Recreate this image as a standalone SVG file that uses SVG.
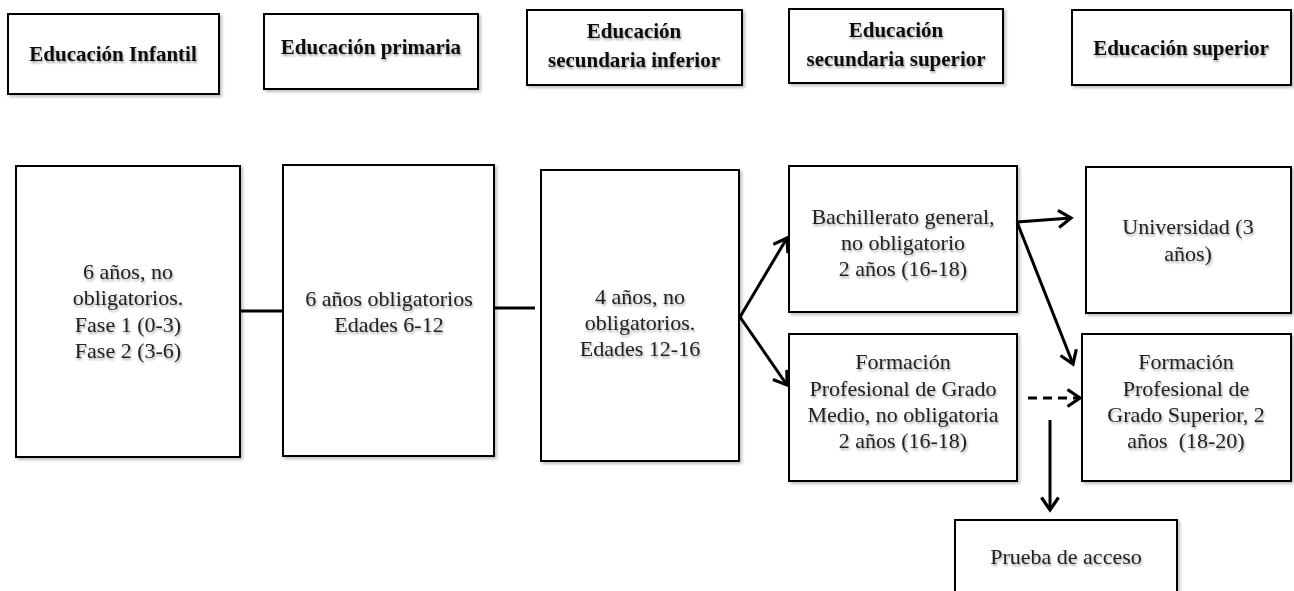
<svg xmlns="http://www.w3.org/2000/svg" width="1294" height="591" viewBox="0 0 1294 591">
<defs>
<filter id="sh" x="-10%" y="-10%" width="130%" height="130%">
<feDropShadow dx="2" dy="2" stdDeviation="1.5" flood-color="#000" flood-opacity="0.25"/>
</filter>
<filter id="tsh" x="-10%" y="-30%" width="130%" height="170%">
<feDropShadow dx="1" dy="2" stdDeviation="1.2" flood-color="#000" flood-opacity="0.35"/>
</filter>
<marker id="arr" viewBox="0 0 17 20" refX="14" refY="10" markerWidth="17" markerHeight="20" markerUnits="userSpaceOnUse" orient="auto">
<path d="M1.5,1.5 L14,10 L1.5,18.5" fill="none" stroke="#000" stroke-width="3.2"/>
</marker>
</defs>
<style>
.box{fill:#fff;stroke:#000;stroke-width:2;filter:url(#sh)}
.h{font-family:"Liberation Serif",serif;font-weight:bold;font-size:21px;text-anchor:middle;fill:#111;filter:url(#tsh)}
.t{font-family:"Liberation Serif",serif;font-size:22px;text-anchor:middle;fill:#222;filter:url(#tsh)}
.c{fill:none;stroke:#000;stroke-width:3}
</style>
<rect width="1294" height="591" fill="#fff"/>
<g id="h1"><rect class="box" x="8" y="14" width="211" height="80"/><text class="h" x="113" y="61">Educación Infantil</text></g>
<g id="h2"><rect class="box" x="264" y="14" width="214" height="75"/><text class="h" x="371" y="54">Educación primaria</text></g>
<g id="h3"><rect class="box" x="527" y="10" width="215" height="75"/><text class="h" x="634" y="38">Educación</text><text class="h" x="634" y="67">secundaria inferior</text></g>
<g id="h4"><rect class="box" x="789" y="9" width="214" height="74"/><text class="h" x="896" y="37">Educación</text><text class="h" x="896" y="66">secundaria superior</text></g>
<g id="h5"><rect class="box" x="1072" y="10" width="219" height="75"/><text class="h" x="1181" y="55">Educación superior</text></g>
<g id="nA"><rect class="box" x="16" y="166" width="224" height="291"/><text class="t" x="128" y="279">6 años, no</text><text class="t" x="128" y="305">obligatorios.</text><text class="t" x="128" y="332">Fase 1 (0-3)</text><text class="t" x="128" y="358">Fase 2 (3-6)</text></g>
<g id="nB"><rect class="box" x="283" y="165" width="211" height="291"/><text class="t" x="389" y="306">6 años obligatorios</text><text class="t" x="389" y="332">Edades 6-12</text></g>
<g id="nC"><rect class="box" x="541" y="170" width="198" height="291"/><text class="t" x="640" y="304">4 años, no</text><text class="t" x="640" y="330">obligatorios.</text><text class="t" x="640" y="356">Edades 12-16</text></g>
<g id="nD"><rect class="box" x="789" y="166" width="228" height="146"/><text class="t" x="903" y="224">Bachillerato general,</text><text class="t" x="903" y="250">no obligatorio</text><text class="t" x="903" y="276">2 años (16-18)</text></g>
<g id="nE"><rect class="box" x="789" y="334" width="228" height="147"/><text class="t" x="903" y="369">Formación</text><text class="t" x="903" y="396">Profesional de Grado</text><text class="t" x="903" y="422">Medio, no obligatoria</text><text class="t" x="903" y="448">2 años (16-18)</text></g>
<g id="nF"><rect class="box" x="1086" y="167" width="205" height="146"/><text class="t" x="1188" y="234">Universidad (3</text><text class="t" x="1188" y="261">años)</text></g>
<g id="nG"><rect class="box" x="1082" y="334" width="209" height="147"/><text class="t" x="1186" y="369">Formación</text><text class="t" x="1186" y="396">Profesional de</text><text class="t" x="1186" y="422">Grado Superior, 2</text><text class="t" x="1186" y="448" xml:space="preserve">años  (18-20)</text></g>
<g id="nH"><rect class="box" x="955" y="520" width="222" height="90"/><text class="t" x="1066" y="564">Prueba de acceso</text></g>
<g id="connectors">
<line class="c" x1="240" y1="311" x2="283" y2="311"/>
<line class="c" x1="494" y1="308" x2="535" y2="308"/>
<line class="c" x1="740" y1="317" x2="787" y2="238" marker-end="url(#arr)"/>
<line class="c" x1="740" y1="317" x2="787" y2="385" marker-end="url(#arr)"/>
<line class="c" x1="1017" y1="222" x2="1071" y2="218" marker-end="url(#arr)"/>
<line class="c" x1="1017" y1="222" x2="1073" y2="364" marker-end="url(#arr)"/>
<line class="c" x1="1028" y1="398" x2="1080" y2="398" stroke-dasharray="9,6" marker-end="url(#arr)"/>
<line class="c" x1="1050" y1="420" x2="1050" y2="510" marker-end="url(#arr)"/>
</g>
</svg>
